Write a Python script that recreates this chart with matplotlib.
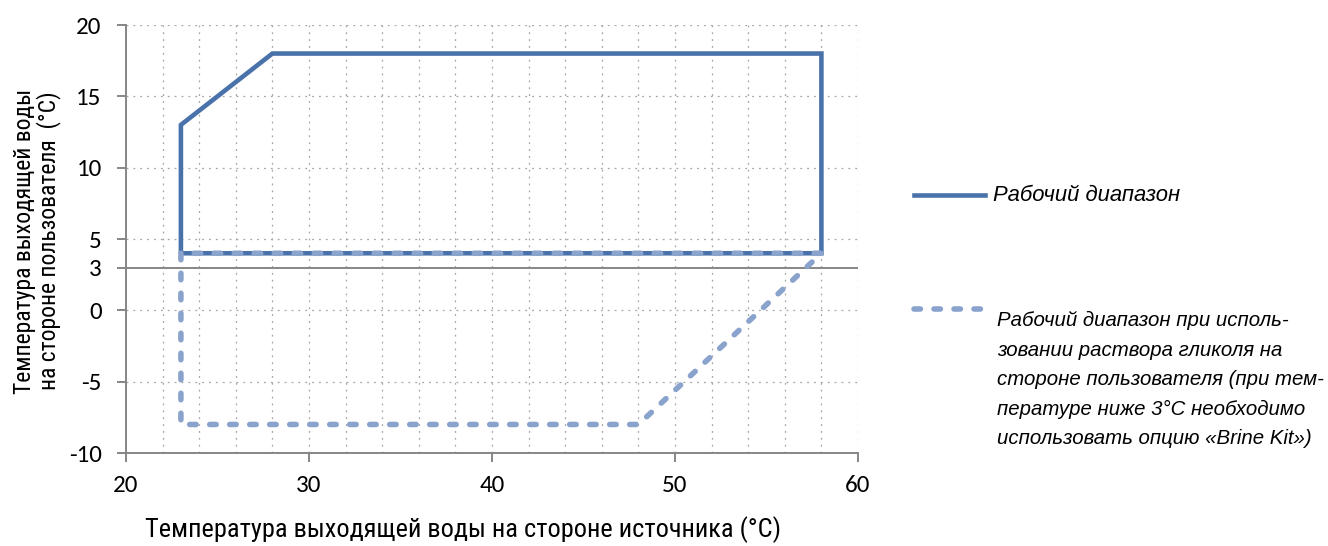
import matplotlib
matplotlib.use("Agg")
import matplotlib.pyplot as plt
from matplotlib.lines import Line2D
import logging
logging.getLogger("matplotlib.font_manager").setLevel(logging.ERROR)

plt.rcParams["axes.unicode_minus"] = False

# Data
work_x = [23, 23, 28, 58, 58, 23]
work_y = [4, 13, 18, 18, 4, 4]
glycol_x = [23, 23, 48, 58, 23]
glycol_y = [4, -8, -8, 4, 4]
xticks = [20, 30, 40, 50, 60]
yticks = [20, 15, 10, 5, 3, 0, -5, -10]
ygrid = [20, 15, 10, 5, 0, -5]
xgrid = list(range(22, 61, 2))

label_work = "Рабочий диапазон"
label_glycol = ("Рабочий диапазон при исполь-\nзовании раствора гликоля на\n"
                "стороне пользователя (при тем-\nпературе ниже 3°C необходимо\n"
                "использовать опцию «Brine Kit»)")
xlabel = "Температура выходящей воды на стороне источника (°C)"
ylabel = "Температура выходящей воды\nна стороне пользователя  (°C)"

c_work = "#4a72aa"
c_glycol = "#8aa3cd"
c_axis = "#868686"
c_grid = "#a6a6a6"

narrow = ["Roboto Condensed", "PT Sans Narrow", "Archivo Narrow",
          "Sofia Sans Semi Condensed", "Liberation Sans"]
digits = ["Carlito", "Open Sans", "DejaVu Sans"]

fig = plt.figure(figsize=(13.28, 5.46), dpi=100)
ax = fig.add_axes([126/1328, 1-453/546, (858-126)/1328, (453-25)/546])

ax.set_xlim(20, 60)
ax.set_ylim(-10, 20)

for gx in xgrid:
    ax.axvline(gx, color=c_grid, lw=0.9, ls=(0, (1.5, 4)), zorder=0)
for gy in ygrid:
    ax.axhline(gy, color=c_grid, lw=0.9, ls=(0, (1.5, 4)), zorder=0)
ax.axhline(3, color=c_axis, lw=1.4, zorder=1)

dash = (0, (1.16, 2.44))
ax.plot(work_x, work_y, color=c_work, lw=3.3, solid_joinstyle="miter",
        solid_capstyle="butt", zorder=3)
ax.plot(glycol_x, glycol_y, color=c_glycol, lw=4.0, ls=dash,
        dash_capstyle="round", zorder=4)

for s in ["top", "right"]:
    ax.spines[s].set_visible(False)
for s in ["left", "bottom"]:
    ax.spines[s].set_color(c_axis)
    ax.spines[s].set_linewidth(1.4)

ax.set_xticks(xticks)
ax.set_yticks(yticks)
ax.tick_params(axis="both", color=c_axis, width=1.4, length=6.5, direction="out")
ax.tick_params(axis="x", pad=9)
ax.tick_params(axis="y", pad=11)
for t in ax.get_yticklabels() + ax.get_xticklabels():
    t.set_fontfamily(digits)
    t.set_fontsize(18)

fig.text(463/1328, 1-530/546, xlabel, ha="center", va="center",
         family=narrow, fontsize=19)
fig.text(37/1328, 1-241/546, ylabel, ha="center", va="center", rotation=90,
         family=narrow, fontsize=17, linespacing=1.05)

# Legend
fig.add_artist(Line2D([914/1328, 985/1328], [1-195/546, 1-195/546],
                      transform=fig.transFigure, color=c_work, lw=3.3))
fig.add_artist(Line2D([914/1328, 985/1328], [1-309/546, 1-309/546],
                      transform=fig.transFigure, color=c_glycol, lw=4.0,
                      ls=dash, dash_capstyle="round"))
fig.text(993/1328, 1-195/546, label_work, ha="left", va="center",
         family="Liberation Sans", style="italic", fontsize=15.8)
fig.text(997/1328, 1-311/546, label_glycol, ha="left", va="top",
         family="Liberation Sans", style="italic", fontsize=14.7, linespacing=1.7)

fig.savefig("out.png", dpi=100)
